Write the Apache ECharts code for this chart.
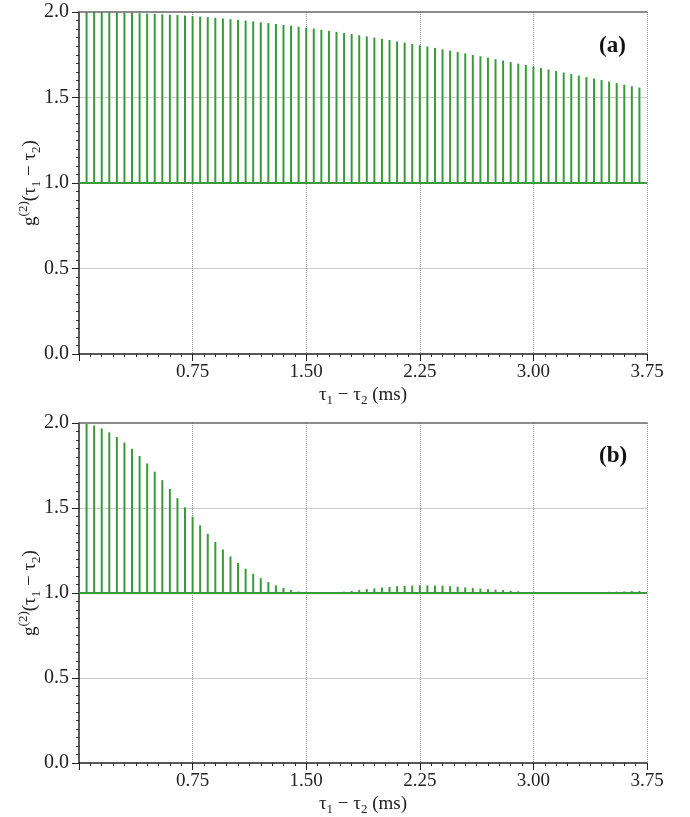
<!DOCTYPE html>
<html>
<head>
<meta charset="utf-8">
<script src="https://cdn.jsdelivr.net/npm/echarts@6/dist/echarts.min.js"></script>
<style>
  html, body { margin: 0; padding: 0; background: #fff; }
  #chart { width: 690px; height: 817px; }
</style>
</head>
<body>
<div id="chart"></div>
<script>
// lag between stems, ms
const LAG_STEP = 0.05;
const xTicks = [0, 0.75, 1.5, 2.25, 3.0, 3.75];
const yTicks = [0.0, 0.5, 1.0, 1.5, 2.0];
const panelLabels = ["(a)", "(b)"];

// panel (a): g2 values at tau = 0.05, 0.10, ... 3.70 ms
const g2a = [
  2.000, 2.000, 1.999, 1.998, 1.997, 1.996, 1.995, 1.993, 1.991, 1.989,
  1.987, 1.985, 1.982, 1.979, 1.976, 1.973, 1.970, 1.966, 1.962, 1.958,
  1.954, 1.950, 1.945, 1.940, 1.935, 1.930, 1.925, 1.920, 1.914, 1.908,
  1.903, 1.896, 1.890, 1.884, 1.877, 1.871, 1.864, 1.857, 1.850, 1.843,
  1.836, 1.828, 1.821, 1.813, 1.806, 1.798, 1.790, 1.782, 1.774, 1.766,
  1.758, 1.749, 1.741, 1.733, 1.724, 1.716, 1.707, 1.698, 1.690, 1.681,
  1.672, 1.664, 1.655, 1.646, 1.637, 1.628, 1.619, 1.611, 1.602, 1.593,
  1.584, 1.575, 1.566, 1.558
];

// panel (b)
const g2b = [
  1.995, 1.985, 1.968, 1.945, 1.918, 1.885, 1.848, 1.806, 1.762, 1.714,
  1.664, 1.612, 1.558, 1.504, 1.450, 1.398, 1.348, 1.300, 1.256, 1.215,
  1.177, 1.143, 1.113, 1.087, 1.064, 1.045, 1.030, 1.018, 1.009, 1.003,
  1.001, 1.000, 1.001, 1.003, 1.008, 1.012, 1.018, 1.023, 1.027, 1.032,
  1.036, 1.040, 1.042, 1.044, 1.045, 1.045, 1.044, 1.043, 1.040, 1.037,
  1.033, 1.029, 1.026, 1.023, 1.020, 1.017, 1.013, 1.010, 1.006, 1.003,
  1.001, 1.000, 1.000, 1.001, 1.001, 1.002, 1.003, 1.004, 1.006, 1.007,
  1.008, 1.009, 1.011, 1.012
];

const lags = g2a.map((_, i) => +(LAG_STEP * (i + 1)).toFixed(2));

const GREEN = "#3a9a3a";
const FONT = "Liberation Serif";

const chart = echarts.init(document.getElementById("chart"));

const stem = (params, api) => {
  const p0 = api.coord([api.value(0), 1]);
  const p1 = api.coord([api.value(0), api.value(1)]);
  return {
    type: "line",
    shape: { x1: p0[0], y1: p0[1], x2: p1[0], y2: p1[1] },
    style: { stroke: GREEN, lineWidth: 2 }
  };
};

const grids = [
  { left: 79, top: 12, width: 568, height: 342 },
  { left: 79, top: 423, width: 568, height: 341 }
];

const xAxes = [];
const yAxes = [];
const series = [];
const titles = [];

[g2a, g2b].forEach((vals, i) => {
  xAxes.push({
    type: "value", gridIndex: i, position: "bottom",
    min: xTicks[0], max: xTicks[xTicks.length - 1], interval: 0.75,
    name: "{t|τ}{s|1}{t| − τ}{s|2}{t| (ms)}",
    nameLocation: "middle", nameGap: 29, nameMoveOverlap: false,
    nameTextStyle: {
      rich: {
        t: { fontFamily: FONT, fontSize: 19, color: "#222", lineHeight: 24 },
        s: { fontFamily: FONT, fontSize: 13, color: "#222", lineHeight: 24, verticalAlign: "bottom", padding: [8, 0, 0, 0] }
      }
    },
    axisLine: { show: true, onZero: false, lineStyle: { color: "#222", width: 1.5 } },
    axisTick: { show: true, length: 7, lineStyle: { color: "#222" } },
    minorTick: { show: true, splitNumber: 10, length: 3, lineStyle: { color: "#333" } },
    axisLabel: {
      fontFamily: FONT, fontSize: 19, color: "#222", margin: 9,
      formatter: v => (v === 0 ? "" : v.toFixed(2))
    },
    splitLine: { show: true, showMinLine: false, lineStyle: { color: "#999", type: "dotted", width: 1 } }
  });
  // top frame line
  xAxes.push({
    type: "value", gridIndex: i, position: "top",
    min: 0, max: 3.75, z: 5,
    axisLine: { show: true, onZero: false, lineStyle: { color: "#666", width: 1.5 } },
    axisTick: { show: false }, axisLabel: { show: false }, splitLine: { show: false }
  });
  yAxes.push({
    type: "value", gridIndex: i,
    min: yTicks[0], max: yTicks[yTicks.length - 1], interval: 0.5,
    name: "{t|g}{p|(2)}{t|(τ}{s|1}{t| − τ}{s|2}{t|)}",
    nameLocation: "middle", nameGap: 36, nameRotate: 90, nameMoveOverlap: false,
    nameTextStyle: {
      rich: {
        t: { fontFamily: FONT, fontSize: 19, color: "#222", lineHeight: 26 },
        p: { fontFamily: FONT, fontSize: 13, color: "#222", lineHeight: 26, verticalAlign: "top", padding: [0, 0, 8, 0] },
        s: { fontFamily: FONT, fontSize: 13, color: "#222", lineHeight: 26, verticalAlign: "bottom", padding: [8, 0, 0, 0] }
      }
    },
    axisLine: { show: true, onZero: false, lineStyle: { color: "#222", width: 1.5 } },
    axisTick: { show: true, length: 7, lineStyle: { color: "#222" } },
    minorTick: { show: true, splitNumber: 10, length: 3, lineStyle: { color: "#333" } },
    axisLabel: {
      fontFamily: FONT, fontSize: 20, color: "#222", margin: 10,
      formatter: v => v.toFixed(1)
    },
    splitLine: { show: true, showMinLine: false, showMaxLine: false, lineStyle: { color: "#ccc", width: 1 } }
  });
  series.push({
    type: "custom",
    xAxisIndex: i * 2, yAxisIndex: i,
    renderItem: stem,
    data: lags.map((t, k) => [t, vals[k]]),
    silent: true,
    markLine: {
      silent: true, symbol: ["none", "none"], label: { show: false },
      lineStyle: { color: GREEN, type: "solid", width: 2 },
      data: [{ yAxis: 1 }]
    }
  });
  titles.push({
    text: panelLabels[i],
    left: 594, top: i === 0 ? 30 : 440,
    textStyle: { fontFamily: FONT, fontSize: 23, fontWeight: "bold", color: "#111" }
  });
});

chart.setOption({
  animation: false,
  backgroundColor: "#fff",
  title: titles,
  grid: grids,
  xAxis: xAxes,
  yAxis: yAxes,
  series: series
});
</script>
</body>
</html>
